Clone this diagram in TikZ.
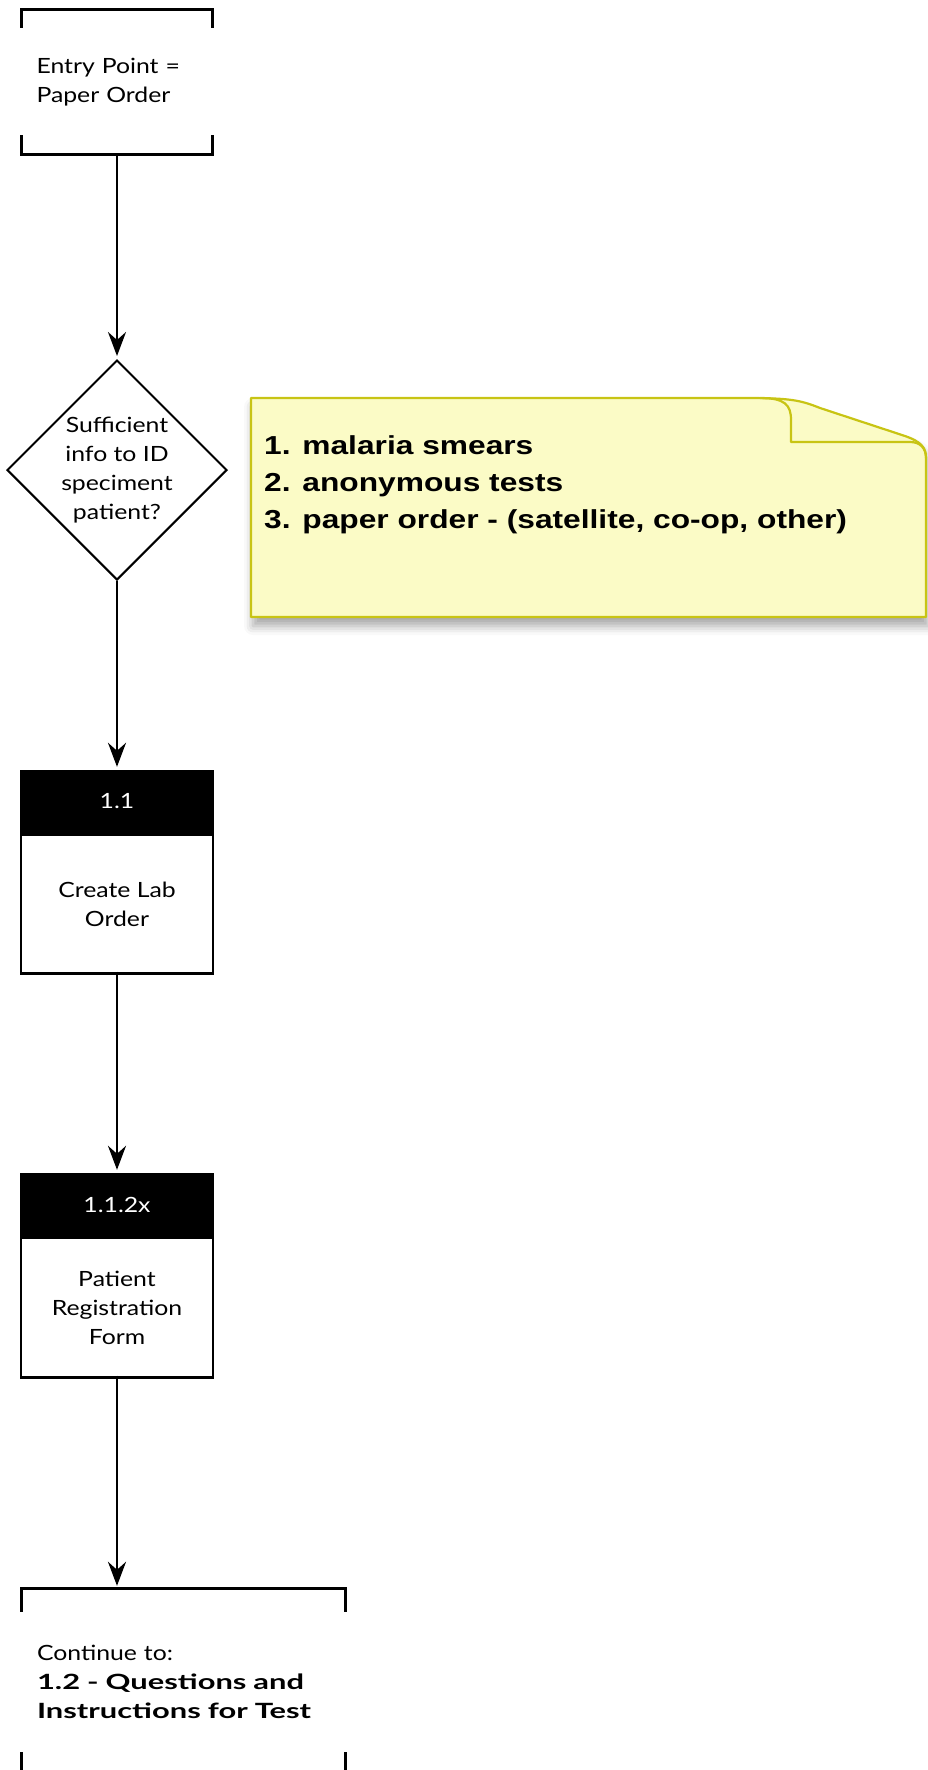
\documentclass[tikz,border=0pt]{standalone}
\usepackage{fontspec}
\setmainfont{Lato}[UprightFeatures={FakeStretch=1.18}, BoldFeatures={FakeStretch=1.47}]
\newfontfamily\notefont{Liberation Sans}[FakeStretch=1.22]
\usetikzlibrary{shapes.geometric,positioning,arrows.meta,calc,shadows.blur}

\begin{document}
\begin{tikzpicture}[x=1pt, y=-1pt,
    flowarrow/.style={line width=2.4pt, shorten >=3pt, -{Stealth[length=24pt, width=18pt, inset=8pt]}},
    bracketline/.style={line width=2.8pt},
    bracketbox/.style={inner sep=0pt, align=left, font=\fontsize{21}{29}\selectfont},
    stephead/.style={fill=black, draw=black, line width=2.4pt, minimum width=192pt, minimum height=61pt,
        inner sep=0pt, text=white, font=\fontsize{21}{29}\selectfont},
    stepbody/.style={draw=black, line width=2.4pt, minimum width=192pt, minimum height=139pt,
        inner sep=0pt, align=center, font=\fontsize{21}{29}\selectfont},
    decision/.style={diamond, draw=black, line width=2pt, minimum width=220pt, minimum height=220pt,
        inner sep=-20pt, align=center, font=\fontsize{21}{29}\selectfont}
]
    % Define colors
    \definecolor{notefill}{RGB}{251, 251, 198}
    \definecolor{noteline}{RGB}{200, 196, 20}

    % Page frame
    \useasboundingbox (0,0) rectangle (927,1770);

    % Entry point
    \node[bracketbox, minimum width=191pt, minimum height=144pt, text width=161pt] (entry) at (117,82)
        {Entry Point =\\Paper Order};
    \draw[bracketline] ($(entry.north west)+(0,18)$) -- (entry.north west) -- (entry.north east) -- ++(0,18);
    \draw[bracketline] ($(entry.south west)+(0,-19)$) -- (entry.south west) -- (entry.south east) -- ++(0,-19);

    % Decision
    \node[decision] (check) at (117,470) {Sufficient\\info to ID\\speciment\\patient?};

    % Steps
    \node[stephead] (labhead) at (117,801.5) {1.1};
    \node[stepbody, below=0pt of labhead] (laborder) {Create Lab\\Order};

    \node[stephead] (reghead) at (117,1204.5) {1.1.2x};
    \node[stepbody, below=0pt of reghead, minimum height=140pt] (regform) {Patient\\Registration\\Form};

    % Continue
    \node[bracketbox, minimum width=323pt, minimum height=186pt, text width=293pt] (next) at (183.5,1682)
        {Continue to:\\\textbf{1.2 - Questions and}\\\textbf{Instructions for Test}};
    \draw[bracketline] ($(next.north west)+(0,23)$) -- (next.north west) -- (next.north east) -- ++(0,23);
    \draw[bracketline] ($(next.south west)+(0,-23)$) -- (next.south west) -- (next.south east) -- ++(0,-23);

    % Connectors
    \draw[flowarrow] (entry.south) -- (check.north);
    \draw[flowarrow] (check.south) -- (labhead.north);
    \draw[flowarrow] ([yshift=3pt]laborder.south) -- (reghead.north);
    \draw[flowarrow] ([yshift=3pt]regform.south) -- (regform.south |- next.north);

    % Sticky note
    \path[fill=notefill, draw=noteline, line width=2.2pt, line join=round,
        blur shadow={shadow xshift=2pt, shadow yshift=-9pt, shadow blur radius=9pt, shadow opacity=35}]
        (251,398) -- (745,398) .. controls (790,398) and (800,400) .. (820,408)
        -- (905,436) .. controls (922,442) and (926,448) .. (926,458)
        -- (926,617) -- (251,617) -- cycle;
    \draw[noteline, line width=2.2pt, line join=round]
        (760,398) .. controls (785,398) and (791,405) .. (791,420) -- (791,442)
        -- (910,442) .. controls (920,442) and (926,448) .. (926,458);
    \node[anchor=north west, inner sep=0pt, align=left, font=\notefont\bfseries\fontsize{26}{37}\selectfont] (notetext)
        at (264,435) {1. malaria smears\\2. anonymous tests\\3. paper order - (satellite, co-op, other)};
\end{tikzpicture}
\end{document}
